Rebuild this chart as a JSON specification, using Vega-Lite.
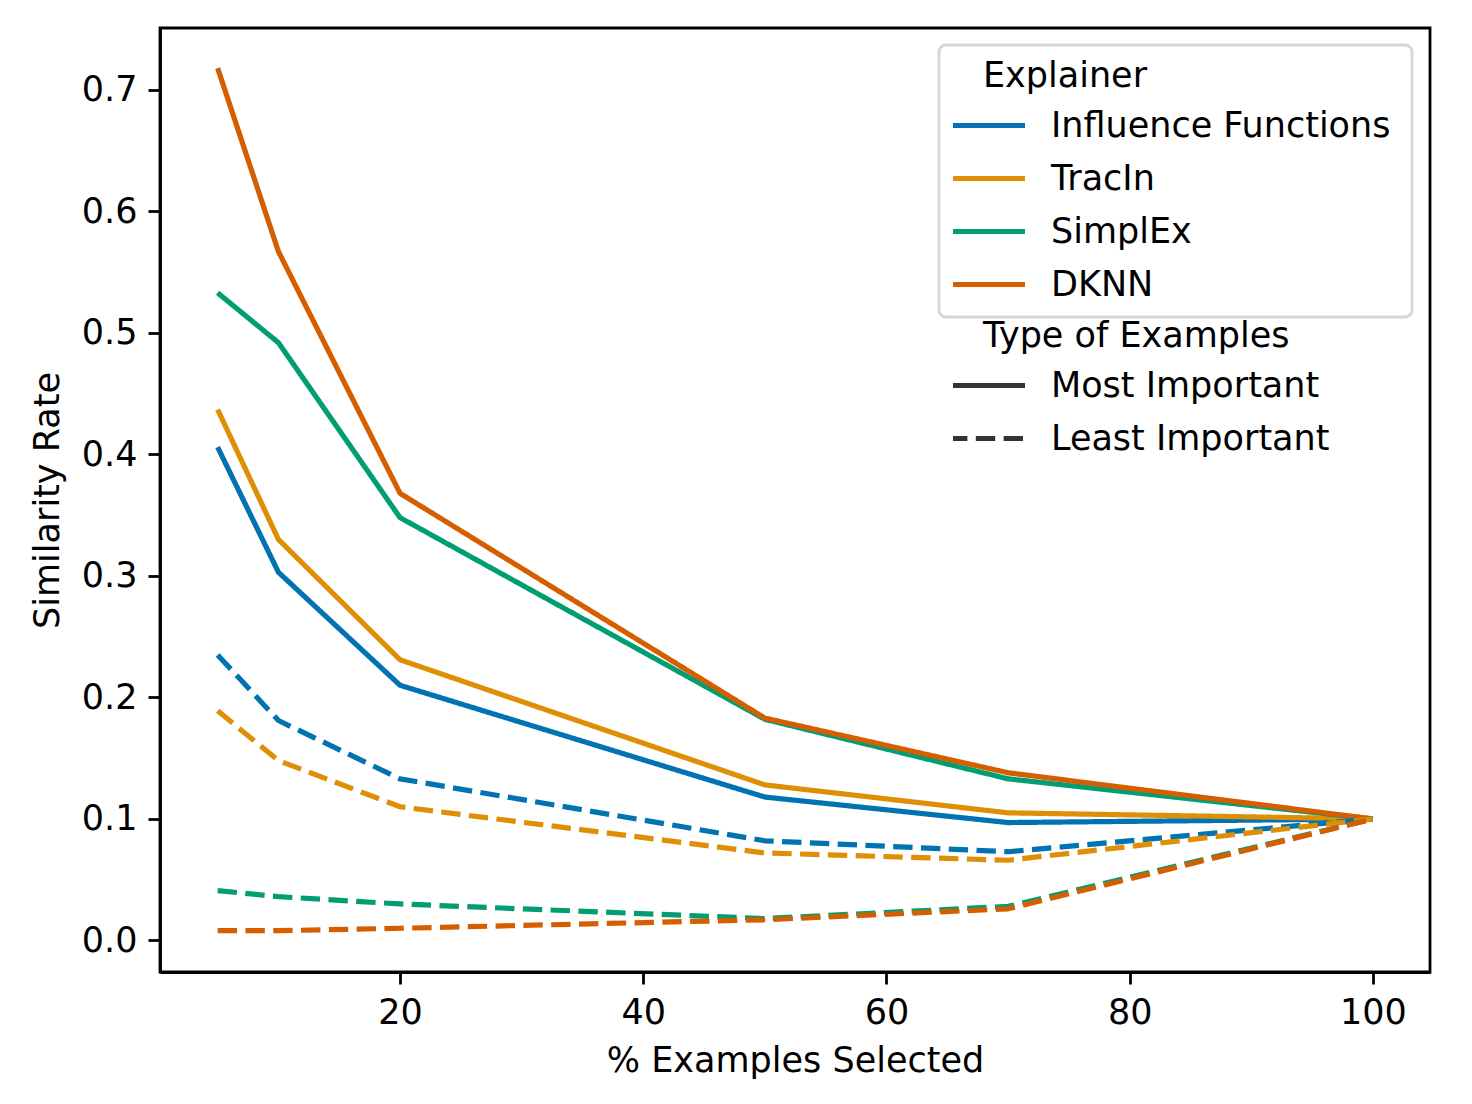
{
  "$schema": "https://vega.github.io/schema/vega-lite/v6.json",
  "width": 1270,
  "height": 944,
  "autosize": {"type": "none"},
  "padding": {"left": 160, "top": 28, "right": 42, "bottom": 132},
  "background": "white",
  "config": {
    "font": "DejaVu Sans",
    "view": {"stroke": "black", "strokeWidth": 2.8},
    "axis": {
      "domainColor": "black", "domainWidth": 2.8,
      "tickColor": "black", "tickWidth": 2.8, "tickSize": 12,
      "labelFont": "DejaVu Sans", "labelFontSize": 35, "labelColor": "black", "labelPadding": 11,
      "titleFont": "DejaVu Sans", "titleFontSize": 35, "titleFontWeight": "normal", "titleColor": "black",
      "grid": false, "labelFlush": false, "labelOverlap": false
    },
    "legend": {
      "orient": "none", "legendX": 779, "padding": 14,
      "titleFont": "DejaVu Sans", "titleFontSize": 35, "titleFontWeight": "normal", "titleColor": "black",
      "labelFont": "DejaVu Sans", "labelFontSize": 35, "labelColor": "black",
      "symbolType": "stroke", "symbolSize": 5929, "symbolStrokeWidth": 5.2,
      "clipHeight": 35, "rowPadding": 17, "titlePadding": 14, "labelOffset": 23, "symbolOffset": -8,
      "labelLimit": 600, "titleLimit": 600, "strokeWidth": 2.8
    }
  },
  "data": {"values": [
    {"Explainer": "Influence Functions", "Type": "Most Important", "pct": 5, "rate": 0.406},
    {"Explainer": "Influence Functions", "Type": "Most Important", "pct": 10, "rate": 0.303},
    {"Explainer": "Influence Functions", "Type": "Most Important", "pct": 20, "rate": 0.210},
    {"Explainer": "Influence Functions", "Type": "Most Important", "pct": 50, "rate": 0.118},
    {"Explainer": "Influence Functions", "Type": "Most Important", "pct": 70, "rate": 0.097},
    {"Explainer": "Influence Functions", "Type": "Most Important", "pct": 100, "rate": 0.100},
    {"Explainer": "TracIn", "Type": "Most Important", "pct": 5, "rate": 0.437},
    {"Explainer": "TracIn", "Type": "Most Important", "pct": 10, "rate": 0.330},
    {"Explainer": "TracIn", "Type": "Most Important", "pct": 20, "rate": 0.231},
    {"Explainer": "TracIn", "Type": "Most Important", "pct": 50, "rate": 0.128},
    {"Explainer": "TracIn", "Type": "Most Important", "pct": 70, "rate": 0.105},
    {"Explainer": "TracIn", "Type": "Most Important", "pct": 100, "rate": 0.100},
    {"Explainer": "SimplEx", "Type": "Most Important", "pct": 5, "rate": 0.533},
    {"Explainer": "SimplEx", "Type": "Most Important", "pct": 10, "rate": 0.492},
    {"Explainer": "SimplEx", "Type": "Most Important", "pct": 20, "rate": 0.348},
    {"Explainer": "SimplEx", "Type": "Most Important", "pct": 50, "rate": 0.182},
    {"Explainer": "SimplEx", "Type": "Most Important", "pct": 70, "rate": 0.133},
    {"Explainer": "SimplEx", "Type": "Most Important", "pct": 100, "rate": 0.100},
    {"Explainer": "DKNN", "Type": "Most Important", "pct": 5, "rate": 0.718},
    {"Explainer": "DKNN", "Type": "Most Important", "pct": 10, "rate": 0.567},
    {"Explainer": "DKNN", "Type": "Most Important", "pct": 20, "rate": 0.368},
    {"Explainer": "DKNN", "Type": "Most Important", "pct": 50, "rate": 0.183},
    {"Explainer": "DKNN", "Type": "Most Important", "pct": 70, "rate": 0.138},
    {"Explainer": "DKNN", "Type": "Most Important", "pct": 100, "rate": 0.100},
    {"Explainer": "Influence Functions", "Type": "Least Important", "pct": 5, "rate": 0.235},
    {"Explainer": "Influence Functions", "Type": "Least Important", "pct": 10, "rate": 0.181},
    {"Explainer": "Influence Functions", "Type": "Least Important", "pct": 20, "rate": 0.133},
    {"Explainer": "Influence Functions", "Type": "Least Important", "pct": 50, "rate": 0.082},
    {"Explainer": "Influence Functions", "Type": "Least Important", "pct": 70, "rate": 0.073},
    {"Explainer": "Influence Functions", "Type": "Least Important", "pct": 100, "rate": 0.100},
    {"Explainer": "TracIn", "Type": "Least Important", "pct": 5, "rate": 0.189},
    {"Explainer": "TracIn", "Type": "Least Important", "pct": 10, "rate": 0.148},
    {"Explainer": "TracIn", "Type": "Least Important", "pct": 20, "rate": 0.110},
    {"Explainer": "TracIn", "Type": "Least Important", "pct": 50, "rate": 0.072},
    {"Explainer": "TracIn", "Type": "Least Important", "pct": 70, "rate": 0.066},
    {"Explainer": "TracIn", "Type": "Least Important", "pct": 100, "rate": 0.100},
    {"Explainer": "SimplEx", "Type": "Least Important", "pct": 5, "rate": 0.041},
    {"Explainer": "SimplEx", "Type": "Least Important", "pct": 10, "rate": 0.036},
    {"Explainer": "SimplEx", "Type": "Least Important", "pct": 20, "rate": 0.030},
    {"Explainer": "SimplEx", "Type": "Least Important", "pct": 50, "rate": 0.018},
    {"Explainer": "SimplEx", "Type": "Least Important", "pct": 70, "rate": 0.028},
    {"Explainer": "SimplEx", "Type": "Least Important", "pct": 100, "rate": 0.100},
    {"Explainer": "DKNN", "Type": "Least Important", "pct": 5, "rate": 0.008},
    {"Explainer": "DKNN", "Type": "Least Important", "pct": 10, "rate": 0.008},
    {"Explainer": "DKNN", "Type": "Least Important", "pct": 20, "rate": 0.010},
    {"Explainer": "DKNN", "Type": "Least Important", "pct": 50, "rate": 0.017},
    {"Explainer": "DKNN", "Type": "Least Important", "pct": 70, "rate": 0.026},
    {"Explainer": "DKNN", "Type": "Least Important", "pct": 100, "rate": 0.100}
  ]},
  "mark": {"type": "line", "strokeWidth": 5.2, "strokeCap": "butt", "strokeJoin": "round"},
  "encoding": {
    "x": {
      "field": "pct", "type": "quantitative",
      "scale": {"domain": [0.26, 104.7], "nice": false, "zero": false},
      "axis": {"values": [20, 40, 60, 80, 100], "title": "% Examples Selected", "titlePadding": 13}
    },
    "y": {
      "field": "rate", "type": "quantitative",
      "scale": {"domain": [-0.026, 0.751], "nice": false, "zero": false},
      "axis": {"values": [0, 0.1, 0.2, 0.3, 0.4, 0.5, 0.6, 0.7], "format": ".1f", "title": "Similarity Rate", "titlePadding": 16}
    },
    "color": {
      "field": "Explainer", "type": "nominal",
      "scale": {
        "domain": ["Influence Functions", "TracIn", "SimplEx", "DKNN"],
        "range": ["#0173B2", "#DE8F05", "#029E73", "#D55E00"]
      },
      "legend": {
        "title": "Explainer", "legendY": 17,
        "strokeColor": "#d6d6d6", "cornerRadius": 7,
        "encoding": {
          "title": {"dx": {"value": 30}},
          "entries": {"width": {"value": 445}}
        }
      }
    },
    "strokeDash": {
      "field": "Type", "type": "nominal",
      "scale": {"domain": ["Most Important", "Least Important"], "range": [[1, 0], [19.4, 8.4]]},
      "legend": {
        "title": "Type of Examples", "legendY": 277,
        "symbolStrokeColor": "#333333",
        "encoding": {
          "title": {"dx": {"value": 30}}
        }
      }
    }
  }
}
